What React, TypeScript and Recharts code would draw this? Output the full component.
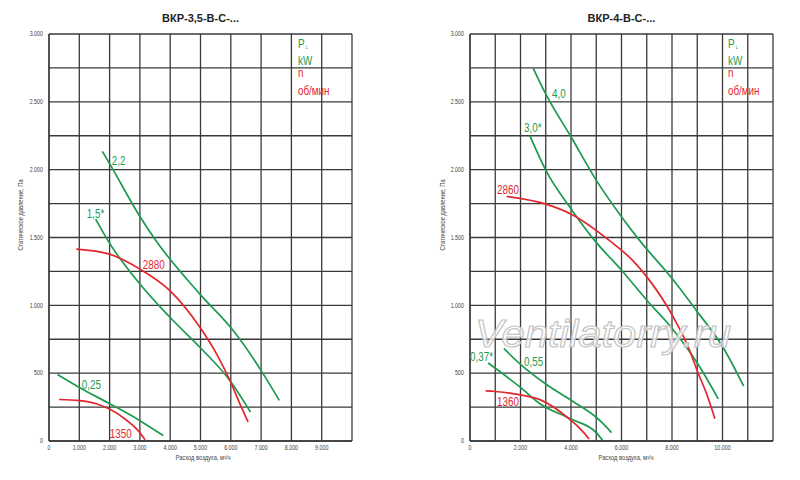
import React from 'react';
import { LineChart, Line, XAxis, YAxis, CartesianGrid, ReferenceDot } from 'recharts';

const GREEN = '#1c9a50';
const RED = '#e2262f';
const GRID = '#3a3a3a';
const SANS = "'Liberation Sans', Arial, sans-serif";
const SQUEEZE = 0.82;

// ---- axis ticks ----
const yTicks = [0, 250, 500, 750, 1000, 1250, 1500, 1750, 2000, 2250, 2500, 2750, 3000];
const yLabels = [0, 500, 1000, 1500, 2000, 2500, 3000];
const leftXTicks = [0, 1000, 2000, 3000, 4000, 5000, 6000, 7000, 8000, 9000, 10000];
const leftXLabels = [0, 1000, 2000, 3000, 4000, 5000, 6000, 7000, 8000, 9000];
const rightXTicks = [0, 1000, 2000, 3000, 4000, 5000, 6000, 7000, 8000, 9000, 10000, 11000, 12000];
const rightXLabels = [0, 2000, 4000, 6000, 8000, 10000];

// ---- left chart: ВКР-3,5-В-С-... ----
const l22X = [1760, 2000, 3000, 3520, 4980, 6080, 7070, 7600];
const l22Y = [2135, 2045, 1655, 1480, 1083, 814, 495, 299];
const l15X = [1540, 1950, 3000, 3990, 4980, 5970, 6650];
const l15Y = [1635, 1475, 1157, 912, 691, 446, 213];
const l2880X = [900, 2000, 3000, 3990, 4980, 5530, 5970, 6300, 6570];
const l2880Y = [1414, 1377, 1267, 1108, 838, 642, 446, 274, 140];
const l025X = [280, 1000, 2000, 3000, 3770];
const l025Y = [490, 395, 275, 150, 40];
const l1350X = [330, 1000, 1560, 2000, 2560, 2890, 3170];
const l1350Y = [306, 298, 275, 235, 153, 89, 10];

// ---- right chart: ВКР-4-В-С-... ----
const r40X = [2500, 3030, 4010, 5010, 6020, 6730, 8020, 8970, 10020, 10840];
const r40Y = [2749, 2547, 2239, 1919, 1648, 1475, 1194, 961, 691, 404];
const r30X = [2370, 3010, 4010, 4950, 6020, 7020, 8020, 9020, 9830];
const r30Y = [2251, 1993, 1709, 1475, 1255, 1034, 826, 569, 311];
const r2860X = [1450, 3010, 4010, 5540, 6460, 7020, 8020, 8700, 9020, 9370, 9700];
const r2860Y = [1803, 1746, 1672, 1475, 1328, 1206, 924, 667, 507, 348, 164];
const r055X = [1340, 2000, 3000, 4000, 5000, 5300, 5600];
const r055Y = [682, 565, 420, 300, 175, 122, 62];
const r037X = [720, 2000, 2770, 4000, 5000, 5250];
const r037Y = [575, 395, 275, 162, 62, 5];
const r1360X = [620, 1000, 2000, 2770, 4000, 4340, 4720];
const r1360Y = [370, 365, 340, 305, 152, 95, 15];

type Pt = { x: number; y: number };
const zip = (xs: number[], ys: number[]): Pt[] => xs.map((x, i) => ({ x, y: ys[i] }));

const fmt = (n: number) =>
  n >= 1000 ? `${Math.floor(n / 1000)}.${String(n % 1000).padStart(3, '0')}` : String(n);

function NText(props: {
  x: number;
  y: number;
  size: number;
  fill: string;
  anchor?: 'start' | 'middle' | 'end';
  dy?: string;
  rotate?: number;
  children: React.ReactNode;
}) {
  const { x, y, size, fill, anchor = 'start', dy, rotate = 0, children } = props;
  return (
    <text
      transform={`translate(${x} ${y}) rotate(${rotate}) scale(${SQUEEZE} 1)`}
      x={0}
      y={0}
      dy={dy}
      textAnchor={anchor}
      fontSize={size}
      fill={fill}
      fontFamily={SANS}
    >
      {children}
    </text>
  );
}

const makeXTick = (labels: number[]) => (props: any) => {
  const { x, y, payload } = props;
  if (!labels.includes(payload.value)) return <g />;
  return (
    <NText x={x} y={y} dy="0.71em" anchor="middle" size={6.5} fill="#444">
      {fmt(payload.value)}
    </NText>
  );
};

const makeYTick = (labels: number[]) => (props: any) => {
  const { x, y, payload } = props;
  if (!labels.includes(payload.value)) return <g />;
  return (
    <NText x={x} y={y} dy="0.355em" anchor="end" size={6.5} fill="#444">
      {fmt(payload.value)}
    </NText>
  );
};

type Series = { name: string; data: Pt[]; color: string };
type CurveLabel = { text: string; x: number; y: number; color: string };

const leftSeries: Series[] = [
  { name: '2,2', data: zip(l22X, l22Y), color: GREEN },
  { name: '1,5*', data: zip(l15X, l15Y), color: GREEN },
  { name: '2880', data: zip(l2880X, l2880Y), color: RED },
  { name: '0,25', data: zip(l025X, l025Y), color: GREEN },
  { name: '1350', data: zip(l1350X, l1350Y), color: RED },
];
const leftLabels: CurveLabel[] = [
  { text: '2,2', x: 2070, y: 2069, color: GREEN },
  { text: '1,5*', x: 1245, y: 1678, color: GREEN },
  { text: '2880', x: 3096, y: 1302, color: RED },
  { text: '0,25', x: 1080, y: 418, color: GREEN },
  { text: '1350', x: 2008, y: 57, color: RED },
];

const rightSeries: Series[] = [
  { name: '4,0', data: zip(r40X, r40Y), color: GREEN },
  { name: '3,0*', data: zip(r30X, r30Y), color: GREEN },
  { name: '2860', data: zip(r2860X, r2860Y), color: RED },
  { name: '0,55', data: zip(r055X, r055Y), color: GREEN },
  { name: '0,37*', data: zip(r037X, r037Y), color: GREEN },
  { name: '1360', data: zip(r1360X, r1360Y), color: RED },
];
const rightLabels: CurveLabel[] = [
  { text: '4,0', x: 3245, y: 2562, color: GREEN },
  { text: '3,0*', x: 2137, y: 2312, color: GREEN },
  { text: '2860', x: 1068, y: 1855, color: RED },
  { text: '0,55', x: 2137, y: 588, color: GREEN },
  { text: '0,37*', x: 0, y: 625, color: GREEN },
  { text: '1360', x: 1068, y: 293, color: RED },
];

const curveLabelContent = (text: string, color: string) => (p: any) => {
  const vb = p && p.viewBox ? p.viewBox : { x: 0, y: 0, width: 0, height: 0 };
  const cx = (vb.x ?? 0) + (vb.width ?? 0) / 2;
  const cy = (vb.y ?? 0) + (vb.height ?? 0) / 2;
  return (
    <NText x={cx} y={cy} dy="0.36em" anchor="start" size={12} fill={color}>
      {text}
    </NText>
  );
};

function Panel(props: {
  series: Series[];
  labels: CurveLabel[];
  xMax: number;
  xTicks: number[];
  xLabels: number[];
  yAxisWidth: number;
  right: number;
}) {
  const { series, labels, xMax, xTicks, xLabels, yAxisWidth, right } = props;
  return (
    <LineChart width={400} height={480} margin={{ top: 34, right, bottom: 19, left: 0 }}>
      <CartesianGrid stroke={GRID} strokeWidth={1.3} />
      <XAxis
        type="number"
        dataKey="x"
        domain={[0, xMax]}
        ticks={xTicks}
        interval={0}
        height={20}
        tickSize={0}
        tickMargin={4}
        tickLine={false}
        axisLine={{ stroke: GRID, strokeWidth: 1.3 }}
        tick={makeXTick(xLabels)}
      />
      <YAxis
        type="number"
        dataKey="y"
        domain={[0, 3000]}
        ticks={yTicks}
        interval={0}
        width={yAxisWidth}
        tickSize={0}
        tickMargin={6}
        tickLine={false}
        axisLine={{ stroke: GRID, strokeWidth: 1.3 }}
        tick={makeYTick(yLabels)}
      />
      {series.map((s) => (
        <Line
          key={s.name}
          data={s.data}
          dataKey="y"
          type="monotone"
          stroke={s.color}
          strokeWidth={1.7}
          dot={false}
          activeDot={false}
          isAnimationActive={false}
        />
      ))}
      {labels.map((l) => (
        <ReferenceDot
          key={l.text}
          x={l.x}
          y={l.y}
          r={0}
          fill="none"
          stroke="none"
          ifOverflow="visible"
          label={{ content: curveLabelContent(l.text, l.color) } as any}
        />
      ))}
    </LineChart>
  );
}

function Legend(props: { x: number }) {
  const { x } = props;
  return (
    <g>
      <text
        transform={`translate(${x} 48) scale(${SQUEEZE} 1)`}
        fontFamily={SANS}
        fontSize={12}
        fill={GREEN}
      >
        P
        <tspan fontSize={4.5} dx={1.5} dy={1}>
          L
        </tspan>
      </text>
      <NText x={x} y={65} size={12} fill={GREEN}>kW</NText>
      <NText x={x} y={77} size={12} fill={RED}>n</NText>
      <NText x={x} y={95} size={12} fill={RED}>об/мин</NText>
    </g>
  );
}

export default function App() {
  return (
    <div style={{ position: 'absolute', left: 0, top: 0, width: 800, height: 480, background: '#fff' }}>
      <div style={{ position: 'absolute', left: 0, top: 0 }}>
        <Panel
          series={leftSeries}
          labels={leftLabels}
          xMax={10000}
          xTicks={leftXTicks}
          xLabels={leftXLabels}
          yAxisWidth={49}
          right={48}
        />
      </div>
      <div style={{ position: 'absolute', left: 400, top: 0 }}>
        <Panel
          series={rightSeries}
          labels={rightLabels}
          xMax={12000}
          xTicks={rightXTicks}
          xLabels={rightXLabels}
          yAxisWidth={70}
          right={27}
        />
      </div>
      <svg
        width={800}
        height={480}
        style={{ position: 'absolute', left: 0, top: 0, pointerEvents: 'none' }}
      >
        <text x={200.5} y={22} textAnchor="middle" fontFamily={SANS} fontWeight="bold" fontSize={11} fill="#222">
          ВКР-3,5-В-С-...
        </text>
        <text x={621.5} y={22} textAnchor="middle" fontFamily={SANS} fontWeight="bold" fontSize={11} fill="#222">
          ВКР-4-В-С-...
        </text>
        <NText x={21} y={215} rotate={-90} dy="0.35em" anchor="middle" size={7} fill="#444">
          Статическое давление, Па
        </NText>
        <NText x={443} y={215} rotate={-90} dy="0.35em" anchor="middle" size={7} fill="#444">
          Статическое давление, Па
        </NText>
        <NText x={203} y={460} anchor="middle" size={7} fill="#444">
          Расход воздуха, м³/ч
        </NText>
        <NText x={626} y={460} anchor="middle" size={7} fill="#444">
          Расход воздуха, м³/ч
        </NText>
        <Legend x={298} />
        <Legend x={728} />
        <text
          x={475}
          y={347}
          fontFamily={SANS}
          fontStyle="italic"
          fontSize={39}
          textLength={256}
          lengthAdjust="spacingAndGlyphs"
          fill="#ffffff"
          fillOpacity={0.75}
          stroke="#c4c4c4"
          strokeWidth={1.2}
        >
          Ventilatorry.ru
        </text>
      </svg>
    </div>
  );
}
